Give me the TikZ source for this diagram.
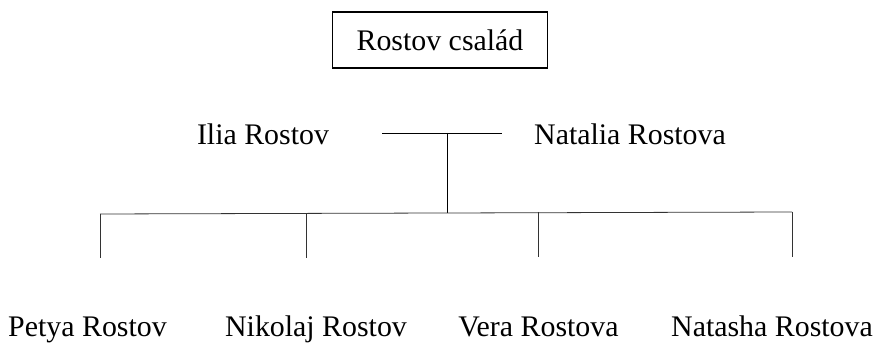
\documentclass[tikz,border=0pt]{standalone}
\usepackage{fontspec}
\setmainfont{Liberation Serif}
\usepackage{tikz}

\tikzset{
    person/.style={anchor=base, inner sep=0pt, font=\fontsize{17}{20}\selectfont},
    title/.style={draw, rectangle, line width=1.1pt, minimum width=4.3cm, minimum height=1.12cm, font=\fontsize{17}{20}\selectfont},
    link/.style={line width=0.5pt},
    kin/.style={line width=0.45pt, black!80}
}

\begin{document}
\begin{tikzpicture}
    \useasboundingbox (0,0) rectangle (17.46,-6.88);

    % Family title
    \node[title] (family) at (8.8,-0.8) {Rostov család};

    % Parents
    \node[person] (ilia) at (5.26,-2.9) {Ilia Rostov};
    \node[person] (natalia) at (12.6,-2.9) {Natalia Rostova};

    % Children
    \node[person] (petya) at (1.75,-6.74) {Petya Rostov};
    \node[person] (nikolaj) at (6.32,-6.74) {Nikolaj Rostov};
    \node[person] (vera) at (10.77,-6.74) {Vera Rostova};
    \node[person] (natasha) at (15.44,-6.74) {Natasha Rostova};

    % Marriage line and bus
    \coordinate (wedL) at (7.64,-2.66);
    \coordinate (wedR) at (10.04,-2.66);
    \coordinate (wed) at (8.94,-2.66);
    \coordinate (bus) at (8.94,-4.26);
    \coordinate (busL) at (2.0,-4.28);
    \coordinate (busR) at (15.84,-4.24);

    \coordinate (dropA) at (2.0,-5.16);
    \coordinate (dropB) at (6.12,-5.16);
    \coordinate (dropC) at (10.76,-5.14);
    \coordinate (dropD) at (15.84,-5.14);

    % Lines
    \draw[link] (wedL) -- (wedR);
    \draw[link] (wed) -- (bus);
    \draw[kin] (busL) -- (busR);

    \draw[kin] (busL) -- (dropA);
    \draw[kin] (dropB |- busL) -- (dropB);
    \draw[kin] (dropC |- busR) -- (dropC);
    \draw[kin] (busR) -- (dropD);
\end{tikzpicture}
\end{document}
